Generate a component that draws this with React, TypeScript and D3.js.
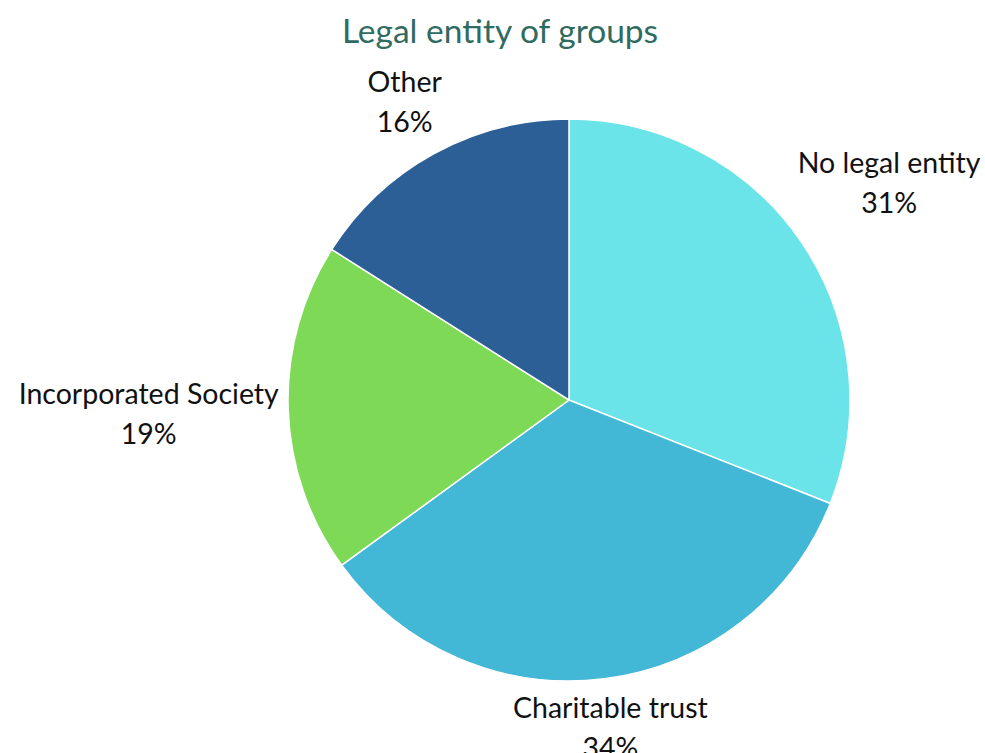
import React from "react";
import * as d3 from "d3";

const categories = ["No legal entity", "Charitable trust", "Incorporated Society", "Other"];
const values = [31, 34, 19, 16];
const colors = ["#6ae4e8", "#43b7d6", "#7ed957", "#2d5f97"];
const title = "Legal entity of groups";

const W = 985;
const H = 753;
const cx = 569;
const cy = 400;
const R = 281;
const FONT = "Lato, 'Open Sans', sans-serif";
const LABEL_SIZE = 28.5;
const LINE_GAP = 40;

function measure(text: string, size: number): number {
  const c = document.createElement("canvas");
  const ctx = c.getContext("2d")!;
  ctx.font = `${size}px Lato`;
  return ctx.measureText(text).width;
}

export default function App() {
  const pie = d3.pie<number>().sort(null).value((d) => d);
  const arcs = pie(values);
  const arcGen = d3.arc<d3.PieArcDatum<number>>().innerRadius(0).outerRadius(R);

  const labels = arcs.map((a, i) => {
    const theta = (a.startAngle + a.endAngle) / 2;
    const dx = Math.sin(theta);
    const dy = -Math.cos(theta);
    const pct = `${Math.round((values[i] / d3.sum(values)) * 100)}%`;
    const w = Math.max(measure(categories[i], LABEL_SIZE), measure(pct, LABEL_SIZE)) + 6;
    const h = LINE_GAP * 2;
    let t = 0;
    for (t = 0; t < 1000; t += 0.5) {
      const x = t * dx;
      const y = t * dy;
      const ex = Math.max(0, Math.abs(x) - w / 2);
      const ey = Math.max(0, Math.abs(y) - h / 2);
      if (Math.sqrt(ex * ex + ey * ey) >= R + 6) break;
    }
    return { x: t * dx, y: t * dy, name: categories[i], pct };
  });

  return (
    <svg
      width={W}
      height={H}
      style={{ position: "absolute", left: 0, top: 0, background: "#fff" }}
    >
      <text
        x={500}
        y={30}
        textAnchor="middle"
        dominantBaseline="central"
        fontFamily={FONT}
        fontSize={33.5}
        fill="#2f6b60"
      >
        {title}
      </text>
      <g transform={`translate(${cx},${cy})`}>
        {arcs.map((a, i) => (
          <path key={i} d={arcGen(a) || ""} fill={colors[i]} stroke="#fff" strokeWidth={1.5} />
        ))}
        {labels.map((l, i) => (
          <g key={i} fontFamily={FONT} fontSize={LABEL_SIZE} fill="#111" textAnchor="middle">
            <text x={l.x} y={l.y - LINE_GAP / 2} dominantBaseline="central">
              {l.name}
            </text>
            <text x={l.x} y={l.y + LINE_GAP / 2} dominantBaseline="central">
              {l.pct}
            </text>
          </g>
        ))}
      </g>
    </svg>
  );
}
